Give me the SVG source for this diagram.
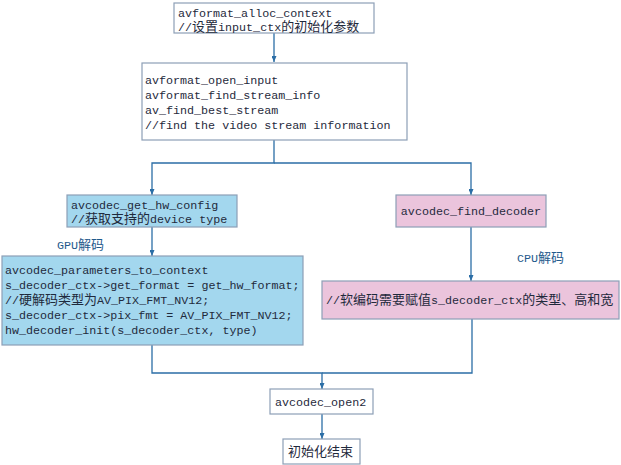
<svg xmlns="http://www.w3.org/2000/svg" width="621" height="465" viewBox="0 0 621 465">
<style>
.box{stroke:#8d9fb6;stroke-width:1.2}
.w{fill:#ffffff}
.b{fill:#a3d7ee}
.p{fill:#ebc4dc}
text{font-family:"Liberation Mono","Noto Sans CJK SC",monospace;font-size:11.7px;fill:#1f2a3c}
.cj{font-size:13px}
.lbl{fill:#1f5a8c}
.c{fill:none;stroke:#2b6ea6;stroke-width:1.3}
</style>
<defs>
<marker id="ah" viewBox="0 0 6 5" refX="6" refY="2.5" markerWidth="6" markerHeight="5" markerUnits="userSpaceOnUse" orient="auto">
<path d="M0,0 L6,2.5 L0,5 Z" fill="#2b6ea6"/>
</marker>
</defs>
<g id="connectors">
<path class="c" d="M274,33 V62" marker-end="url(#ah)"/>
<path class="c" d="M274,140 V163 H152 V195" marker-end="url(#ah)"/>
<path class="c" d="M274,163 H471 V195" marker-end="url(#ah)"/>
<path class="c" d="M152,227 V256" marker-end="url(#ah)"/>
<path class="c" d="M471,227 V281" marker-end="url(#ah)"/>
<path class="c" d="M152,345 V373 H322 V389" marker-end="url(#ah)"/>
<path class="c" d="M472,319 V373 H322"/>
<path class="c" d="M322,414 V439" marker-end="url(#ah)"/>
<text class="lbl" x="57" y="249">GPU<tspan class="cj">解码</tspan></text>
<text class="lbl" x="517" y="262">CPU<tspan class="cj">解码</tspan></text>
</g>
<g id="n1">
<rect class="box w" x="174" y="3" width="200" height="30"/>
<text x="178" y="16.5">avformat_alloc_context</text>
<text x="178" y="30.5">//<tspan class="cj">设置</tspan>input_ctx<tspan class="cj">的初始化参数</tspan></text>
</g>
<g id="n2">
<rect class="box w" x="142" y="63" width="265" height="77"/>
<text x="145" y="84">avformat_open_input</text>
<text x="145" y="99">avformat_find_stream_info</text>
<text x="145" y="114">av_find_best_stream</text>
<text x="145" y="129">//find the video stream information</text>
</g>
<g id="n3">
<rect class="box b" x="67" y="195" width="170" height="32"/>
<text x="71" y="209">avcodec_get_hw_config</text>
<text x="71" y="223">//<tspan class="cj">获取支持的</tspan>device type</text>
</g>
<g id="n4">
<rect class="box b" x="2" y="256" width="301" height="89"/>
<text x="5" y="274">avcodec_parameters_to_context</text>
<text x="5" y="289">s_decoder_ctx-&gt;get_format = get_hw_format;</text>
<text x="5" y="304">//<tspan class="cj">硬解码类型为</tspan>AV_PIX_FMT_NV12;</text>
<text x="5" y="319">s_decoder_ctx-&gt;pix_fmt = AV_PIX_FMT_NV12;</text>
<text x="5" y="334">hw_decoder_init(s_decoder_ctx, type)</text>
</g>
<g id="n5">
<rect class="box p" x="396" y="195" width="150" height="32"/>
<text x="471" y="215" text-anchor="middle">avcodec_find_decoder</text>
</g>
<g id="n6">
<rect class="box p" x="322" y="281" width="297" height="38"/>
<text x="326" y="304">//<tspan class="cj">软编码需要赋值</tspan>s_decoder_ctx<tspan class="cj">的类型、高和宽</tspan></text>
</g>
<g id="n7">
<rect class="box w" x="270" y="389" width="103" height="25"/>
<text x="275" y="406">avcodec_open2</text>
</g>
<g id="n8">
<rect class="box w" x="283" y="439" width="77" height="25"/>
<text x="288" y="456" class="cj">初始化结束</text>
</g>
</svg>
